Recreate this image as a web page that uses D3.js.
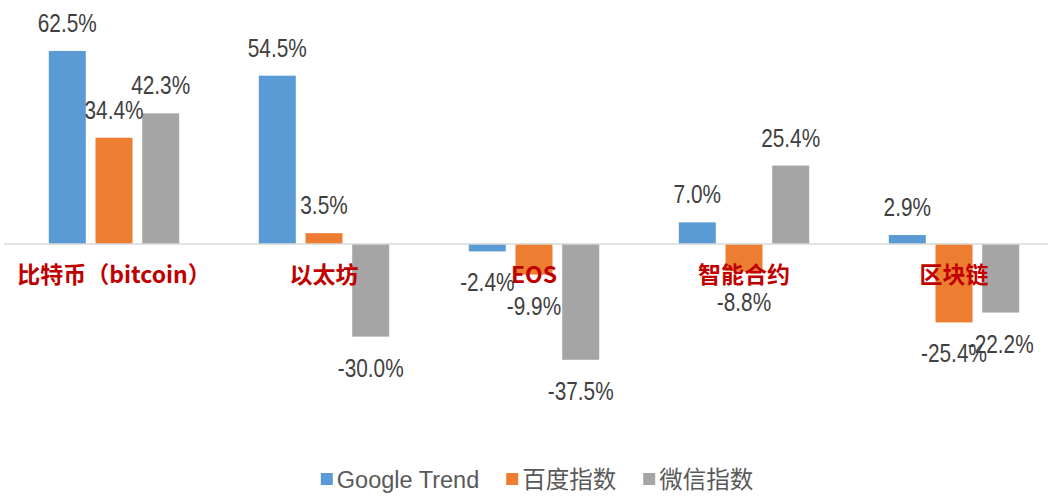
<!DOCTYPE html>
<html>
<head>
<meta charset="utf-8">
<script src="https://cdn.jsdelivr.net/npm/d3@7"></script>
<style>
  html, body { margin: 0; padding: 0; background: #fff; }
  svg { display: block; }
</style>
</head>
<body>
<div id="chart"></div>
<script>
// chart data
var categories = ['比特币（bitcoin）', '以太坊', 'EOS', '智能合约', '区块链'];
var seriesNames = ['Google Trend', '百度指数', '微信指数'];
var googleTrend = [62.5, 54.5, -2.4, 7.0, 2.9];
var baiduIndex = [34.4, 3.5, -9.9, -8.8, -25.4];
var wechatIndex = [42.3, -30.0, -37.5, 25.4, -22.2];
var colors = ['#5b9bd5', '#ed7d31', '#a5a5a5'];

var width = 1048, height = 496;
var seriesValues = [googleTrend, baiduIndex, wechatIndex];

var svg = d3.select('#chart')
  .append('svg')
  .attr('width', width)
  .attr('height', height);

svg.append('rect').attr('width', width).attr('height', height).attr('fill', '#fff');

// scales
var x = d3.scaleBand()
  .domain(categories)
  .range([9, 1059])
  .paddingInner(0);

var inner = d3.scaleBand()
  .domain(d3.range(seriesNames.length))
  .range([x.bandwidth() / 2 - 65.2, x.bandwidth() / 2 + 65.2])
  .paddingInner(0.208);

var y = d3.scaleLinear()
  .domain([-50, 70])
  .range([398.4, 27.8]);

// flatten bars
var bars = [];
categories.forEach(function (c, i) {
  seriesValues.forEach(function (vals, s) {
    bars.push({ cat: c, s: s, v: vals[i] });
  });
});

var g = svg.append('g');

g.selectAll('rect.bar')
  .data(bars)
  .enter()
  .append('rect')
  .attr('class', 'bar')
  .attr('x', function (d) { return x(d.cat) + inner(d.s); })
  .attr('width', inner.bandwidth())
  .attr('y', function (d) { return y(Math.max(0, d.v)); })
  .attr('height', function (d) { return Math.abs(y(d.v) - y(0)); })
  .attr('fill', function (d) { return colors[d.s]; });

// zero line
g.append('line')
  .attr('x1', 4)
  .attr('x2', width)
  .attr('y1', y(0))
  .attr('y2', y(0))
  .attr('stroke', '#d9d9d9')
  .attr('stroke-width', 1.5);

// category labels
g.selectAll('text.cat')
  .data(categories)
  .enter()
  .append('text')
  .attr('class', 'cat')
  .attr('x', function (d) { return x(d) + x.bandwidth() / 2; })
  .attr('y', 283)
  .attr('text-anchor', 'middle')
  .attr('font-family', '"Noto Sans CJK SC", sans-serif')
  .attr('font-weight', 'bold')
  .attr('font-size', 23)
  .attr('fill', '#c00000')
  .text(function (d) { return d; });

// value labels (squeezed to look like the narrow font of the original)
g.selectAll('text.val')
  .data(bars)
  .enter()
  .append('text')
  .attr('class', 'val')
  .attr('x', function (d) { return x(d.cat) + inner(d.s) + inner.bandwidth() / 2; })
  .attr('y', function (d) { return d.v >= 0 ? y(d.v) - 19 : y(d.v) + 40; })
  .attr('text-anchor', 'middle')
  .attr('font-family', '"Liberation Sans", sans-serif')
  .attr('font-size', 26)
  .attr('fill', '#404040')
  .text(function (d) { return d.v.toFixed(1) + '%'; })
  .each(function () {
    var w = this.getComputedTextLength();
    d3.select(this)
      .attr('textLength', w * 0.8)
      .attr('lengthAdjust', 'spacingAndGlyphs');
  });

// legend
var legend = svg.append('g').attr('class', 'legend');
var items = legend.selectAll('g.item')
  .data(seriesNames)
  .enter()
  .append('g')
  .attr('class', 'item');

items.append('rect')
  .attr('width', 12)
  .attr('height', 12)
  .attr('y', 473)
  .attr('fill', function (d, i) { return colors[i]; });

items.append('text')
  .attr('y', 488)
  .attr('font-family', '"Liberation Sans", "Noto Sans CJK SC", sans-serif')
  .attr('font-size', 23.5)
  .attr('fill', '#595959')
  .text(function (d) { return d; });

// place legend items side by side, centred
var offs = [], cur = 0;
items.each(function () {
  var w = d3.select(this).select('text').node().getComputedTextLength();
  offs.push(cur);
  cur += 16 + w + 27;
});
var total = cur - 27;
var start = 537 - total / 2;
items.each(function (d, i) {
  var it = d3.select(this);
  it.select('rect').attr('x', start + offs[i]);
  it.select('text').attr('x', start + offs[i] + 16);
});
</script>
</body>
</html>
